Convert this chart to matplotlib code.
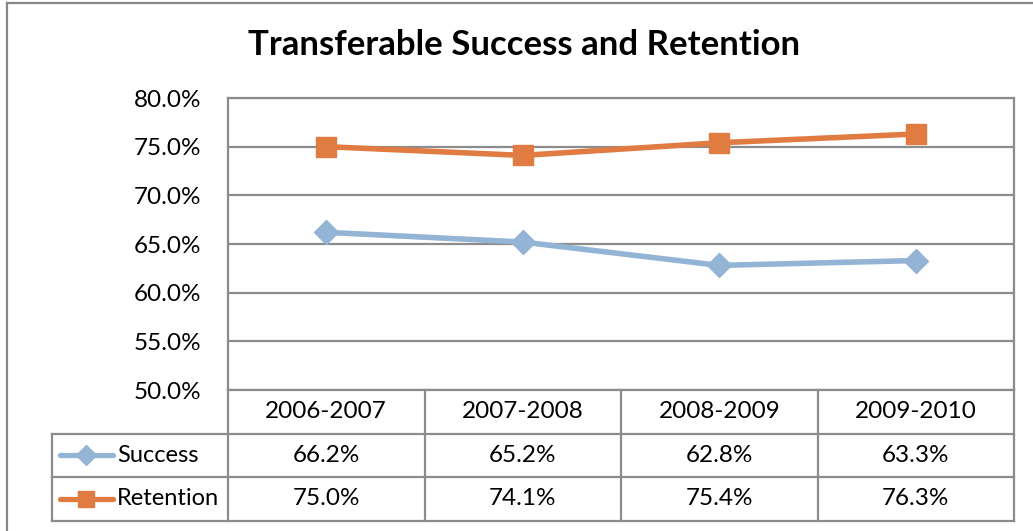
import matplotlib.pyplot as plt
from matplotlib.lines import Line2D

# Data
years = ["2006-2007", "2007-2008", "2008-2009", "2009-2010"]
success = [66.2, 65.2, 62.8, 63.3]
retention = [75.0, 74.1, 75.4, 76.3]
yticks = [50, 55, 60, 65, 70, 75, 80]

blue = "#93b4d4"
orange = "#e07c42"
grid_c = "#8c8c8c"
plt.rcParams['font.family'] = ['Lato', 'DejaVu Sans']

W, H = 1033, 531
fig = plt.figure(figsize=(W / 100, H / 100), dpi=100)

# pixel layout
px_l, px_r, px_t, px_b = 228, 1014, 98, 390
row_h = 43.5
leg_l = 52
fs = 17.5

ax = fig.add_axes([px_l / W, 1 - px_b / H, (px_r - px_l) / W, (px_b - px_t) / H])
x = range(len(years))
ax.plot(x, success, color=blue, lw=4, marker="D", ms=12, mec=blue, mfc=blue)
ax.plot(x, retention, color=orange, lw=4, marker="s", ms=14, mec=orange, mfc=orange)
ax.set_xlim(-0.5, len(years) - 0.5)
ax.set_ylim(50, 80)
ax.set_yticks(yticks)
ax.set_yticklabels([f"{v:.1f}%" for v in yticks], fontsize=fs)
ax.set_xticks([])
ax.tick_params(axis="y", length=0, pad=19)
ax.grid(axis="y", color=grid_c, lw=1.6)
for s in ax.spines.values():
    s.set_color(grid_c)
    s.set_linewidth(1.6)

# overlay in pixel coords for the data table and chart border
ov = fig.add_axes([0, 0, 1, 1], facecolor="none")
ov.set_xlim(0, W)
ov.set_ylim(H, 0)
ov.axis("off")

def line(x0, y0, x1, y1, c=grid_c):
    ov.add_line(Line2D([x0, x1], [y0, y1], color=c, lw=1.6))

# chart border
line(7, 3, 7, H, "#888888")
line(7, 3, W, 3, "#888888")

col_w = (px_r - px_l) / len(years)
rows_y = [px_b + row_h * i for i in range(4)]
# horizontal lines
line(px_l, rows_y[1], px_r, rows_y[1])
line(leg_l, rows_y[1], px_l, rows_y[1])
line(leg_l, rows_y[2], px_r, rows_y[2])
line(leg_l, rows_y[3], px_r, rows_y[3])
# vertical lines
for i in range(len(years) + 1):
    line(px_l + col_w * i, px_b, px_l + col_w * i, rows_y[3])
line(leg_l, rows_y[1], leg_l, rows_y[3])

for i, yr in enumerate(years):
    cx = px_l + col_w * (i + 0.5)
    ov.text(cx, (rows_y[0] + rows_y[1]) / 2, yr, ha="center", va="center", fontsize=fs)
    ov.text(cx, (rows_y[1] + rows_y[2]) / 2, f"{success[i]:.1f}%", ha="center", va="center", fontsize=fs)
    ov.text(cx, (rows_y[2] + rows_y[3]) / 2, f"{retention[i]:.1f}%", ha="center", va="center", fontsize=fs)

# legend keys inside table
for (name, c, m, ms), r in zip([("Success", blue, "D", 10), ("Retention", orange, "s", 12)], [1, 2]):
    yc = (rows_y[r] + rows_y[r + 1]) / 2
    ov.plot([60, 113], [yc, yc], color=c, lw=3.8, solid_capstyle="round")
    ov.plot([86], [yc], marker=m, ms=ms, color=c)
    ov.text(117, yc, name, ha="left", va="center", fontsize=17)

fig.text(524 / W, 1 - 45 / H, "Transferable Success and Retention",
         ha="center", va="center", fontsize=25, fontweight="bold")

fig.savefig("out.png", dpi=100)
